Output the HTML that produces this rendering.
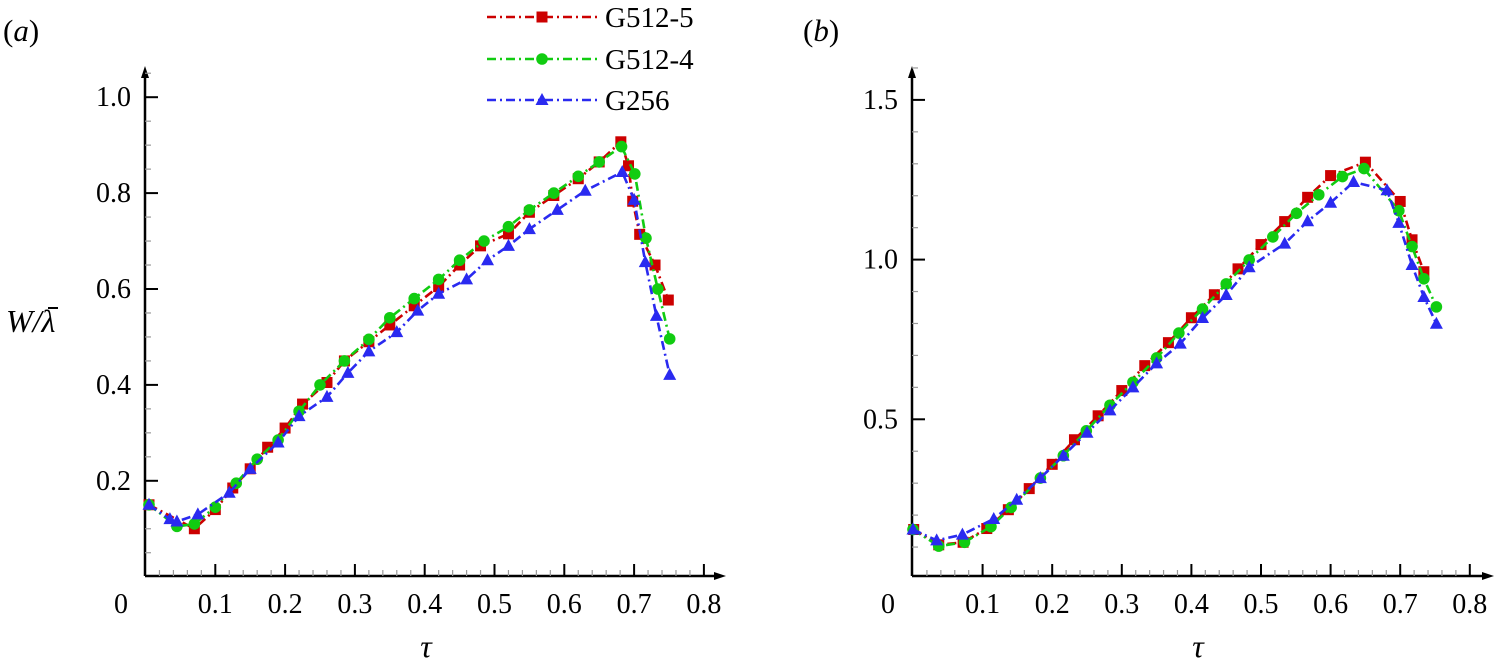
<!DOCTYPE html>
<html><head><meta charset="utf-8"><style>
body{margin:0;background:#fff;}
text,tspan{font-family:'Liberation Serif','Noto Serif CJK SC','DejaVu Serif',serif !important;}
</style></head><body>
<svg id="chart" width="1496" height="666" viewBox="0 0 1496 666" xmlns="http://www.w3.org/2000/svg">
<text x="3" y="41" font-size="31">(<tspan font-style="italic">a</tspan>)</text>
<text x="803" y="41" font-size="31">(<tspan font-style="italic">b</tspan>)</text>
<text x="6" y="332" font-size="32" font-style="italic">W/λ</text>
<line x1="48" y1="308" x2="58" y2="308" stroke="#000" stroke-width="2"/>
<text x="426" y="657" font-size="32" font-style="italic" text-anchor="middle">τ</text>
<text x="1198" y="657" font-size="32" font-style="italic" text-anchor="middle">τ</text>
<g id="legend"></g>
<g id="pa"></g>
<g id="pb"></g>
</svg>
<script>
const seriesNames=["G512-5","G512-4","G256"];
const colors=["#cc0000","#11cc11","#2a2af0"];
const markers=["square","circle","triangle"];
// Panel (a)
const aRedT=[0.005,0.07,0.10,0.125,0.15,0.175,0.20,0.225,0.26,0.285,0.32,0.35,0.385,0.42,0.45,0.48,0.52,0.55,0.585,0.62,0.65,0.681,0.692,0.698,0.708,0.73,0.749];
const aRedV=[0.15,0.10,0.14,0.185,0.225,0.27,0.31,0.36,0.405,0.45,0.49,0.525,0.565,0.605,0.65,0.69,0.715,0.76,0.795,0.83,0.865,0.907,0.857,0.783,0.714,0.65,0.577];
const aGreenT=[0.005,0.045,0.07,0.10,0.13,0.16,0.19,0.22,0.25,0.285,0.32,0.35,0.385,0.42,0.45,0.485,0.52,0.55,0.585,0.62,0.65,0.682,0.701,0.717,0.734,0.751];
const aGreenV=[0.15,0.105,0.11,0.145,0.195,0.245,0.285,0.345,0.40,0.45,0.495,0.54,0.58,0.62,0.66,0.70,0.73,0.765,0.80,0.835,0.865,0.897,0.84,0.706,0.60,0.496];
const aBlueT=[0.005,0.035,0.045,0.075,0.12,0.15,0.19,0.22,0.26,0.29,0.32,0.36,0.39,0.42,0.46,0.49,0.52,0.55,0.59,0.63,0.683,0.70,0.716,0.732,0.751];
const aBlueV=[0.15,0.12,0.115,0.13,0.175,0.225,0.28,0.335,0.375,0.425,0.47,0.51,0.555,0.59,0.62,0.66,0.69,0.725,0.765,0.805,0.844,0.786,0.656,0.544,0.421];
// Panel (b)
const bRedT=[0.001,0.037,0.072,0.106,0.137,0.167,0.2,0.232,0.266,0.3,0.333,0.367,0.4,0.433,0.467,0.5,0.534,0.567,0.6,0.65,0.7,0.717,0.734];
const bRedV=[0.155,0.107,0.115,0.158,0.217,0.283,0.359,0.436,0.511,0.59,0.668,0.74,0.818,0.89,0.971,1.047,1.119,1.195,1.263,1.305,1.182,1.062,0.962];
const bGreenT=[0.0,0.037,0.074,0.112,0.141,0.183,0.216,0.249,0.283,0.316,0.35,0.382,0.416,0.45,0.483,0.517,0.551,0.583,0.617,0.648,0.698,0.717,0.734,0.752];
const bGreenV=[0.155,0.103,0.115,0.164,0.224,0.316,0.386,0.464,0.544,0.616,0.692,0.77,0.845,0.924,0.999,1.071,1.145,1.203,1.26,1.285,1.153,1.041,0.94,0.852];
const bBlueT=[0.0,0.034,0.071,0.116,0.149,0.183,0.216,0.25,0.283,0.316,0.35,0.384,0.416,0.45,0.483,0.534,0.567,0.6,0.633,0.681,0.698,0.717,0.734,0.752];
const bBlueV=[0.155,0.121,0.139,0.188,0.248,0.316,0.386,0.458,0.528,0.6,0.675,0.737,0.817,0.889,0.976,1.05,1.12,1.178,1.243,1.217,1.115,0.983,0.883,0.799];
const xTickLabels=["0","0.1","0.2","0.3","0.4","0.5","0.6","0.7","0.8"];
const aYTickLabels=["0.2","0.4","0.6","0.8","1.0"];
const bYTickLabels=["0.5","1.0","1.5"];

const NS="http://www.w3.org/2000/svg";
function mk(tag,attrs,parent){const e=document.createElementNS(NS,tag);for(const k in attrs)e.setAttribute(k,attrs[k]);parent.appendChild(e);return e;}

function marker(g,type,x,y,color){
  let e;
  if(type==="square"){e=mk("rect",{x:x-5.5,y:y-5.5,width:11,height:11,fill:color},g);}
  else if(type==="circle"){e=mk("circle",{cx:x,cy:y,r:5.8,fill:color},g);}
  else {e=mk("polygon",{points:`${x},${y-7} ${x-6.5},${y+5} ${x+6.5},${y+5}`,fill:color},g);}
  return e;
}

function panel(gid,cfg,tSets,vSets,yLabels,key){
  const g=document.getElementById(gid);
  const X=t=>cfg.x0+t*cfg.xs;
  const Y=v=>cfg.y0-v*cfg.ys;
  const ax=mk("g",{},g);
  
  
  mk("line",{x1:cfg.ax,y1:cfg.axy,x2:cfg.ax,y2:76,stroke:"#000","stroke-width":2.5},ax);
  mk("polygon",{points:`${cfg.ax},66 ${cfg.ax-4},78 ${cfg.ax+4},78`,fill:"#000"},ax);
  mk("line",{x1:cfg.ax,y1:cfg.axy,x2:cfg.xEnd-8,y2:cfg.axy,stroke:"#000","stroke-width":2.5},ax);
  mk("polygon",{points:`${cfg.xEnd},${cfg.axy} ${cfg.xEnd-12},${cfg.axy-4} ${cfg.xEnd-12},${cfg.axy+4}`,fill:"#000"},ax);
  for(let i=1;i<=40;i++){
    const t=i*0.02, x=X(t);
    const major=i%5===0;
    mk("line",{x1:x,y1:cfg.axy,x2:x,y2:cfg.axy-(major?12:6),stroke:major?"#000":"#999","stroke-width":major?2:1.2},ax);
  }
  xTickLabels.forEach((lab,i)=>{
    const t=mk("text",{x:i===0?cfg.ax-24:X(i*0.1),y:613,"font-size":28,"text-anchor":"middle"},ax);
    
    
    t.textContent=lab;
  });
  for(let v=cfg.yMinor;v<=cfg.yMax+1e-9;v+=cfg.yMinor){
    const vv=Math.round(v*1000)/1000;
    const major=Math.abs(vv/cfg.yMajor-Math.round(vv/cfg.yMajor))<1e-6;
    mk("line",{x1:cfg.ax,y1:Y(vv),x2:cfg.ax+(major?13:6),y2:Y(vv),stroke:major?"#000":"#999","stroke-width":major?2:1.2},ax);
  }
  yLabels.forEach(lab=>{
    const t=mk("text",{x:cfg.ax-14,y:Y(parseFloat(lab))+9,"font-size":28,"text-anchor":"end"},ax);
    
    
    t.textContent=lab;
  });
  tSets.forEach((ts,s)=>{
    const vs=vSets[s];
    const sg=mk("g",{},g);
    
    
    const pts=ts.map((t,i)=>X(t).toFixed(1)+","+Y(vs[i]).toFixed(1)).join(" ");
    const pl=mk("polyline",{points:pts,fill:"none",stroke:colors[s],"stroke-width":2.6,"stroke-dasharray":"9,4,2,4","stroke-linejoin":"round"},sg);
    
    
    ts.forEach((t,i)=>{
      const m=marker(sg,markers[s],X(t),Y(vs[i]),colors[s]);
      
      
    });
  });
}

panel("pa",{x0:145.5,xs:698,y0:576.7,ys:479.5,ax:145,axy:576,xEnd:726,yMinor:0.05,yMajor:0.2,yMax:1.05},
  [aRedT,aGreenT,aBlueT],[aRedV,aGreenV,aBlueV],aYTickLabels,"panel-a");
panel("pb",{x0:913,xs:696,y0:579,ys:319.4,ax:912,axy:576,xEnd:1494,yMinor:0.1,yMajor:0.5,yMax:1.6},
  [bRedT,bGreenT,bBlueT],[bRedV,bGreenV,bBlueV],bYTickLabels,"panel-b");

const lg=document.getElementById("legend");
const legendY=[17,59,100];
seriesNames.forEach((n,s)=>{
  const e=mk("g",{},lg);
  
  
  mk("line",{x1:487,y1:legendY[s],x2:597,y2:legendY[s],stroke:colors[s],"stroke-width":2.6,"stroke-dasharray":"9,4,2,4"},e);
  marker(e,markers[s],542,legendY[s],colors[s]);
  const t=mk("text",{x:605,y:legendY[s]+10,"font-size":29},e);
  t.textContent=n;
});
</script>
</body></html>
